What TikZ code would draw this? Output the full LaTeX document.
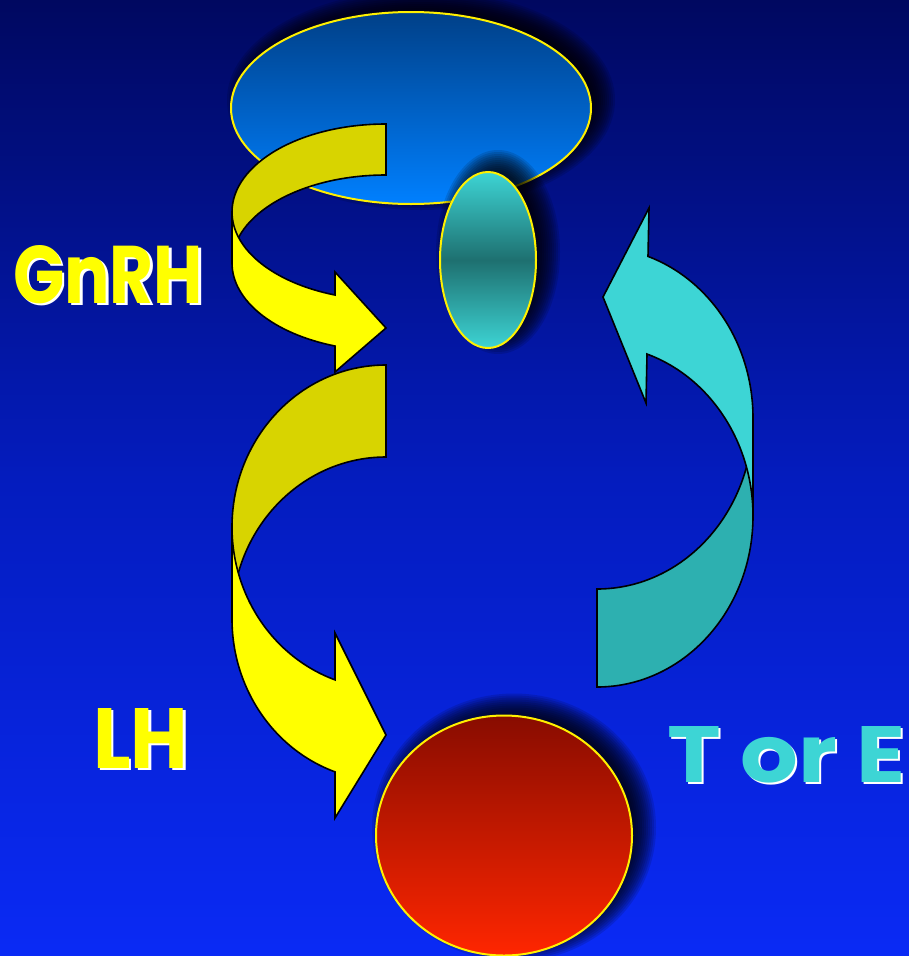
\documentclass[tikz,border=0pt]{standalone}
\usepackage{fontspec}
\usepackage{graphicx}
\newfontfamily\lblfont{Poppins}
\definecolor{bgtop}{RGB}{0,8,96}
\definecolor{bgmid}{RGB}{4,28,190}
\definecolor{bgbot}{RGB}{10,42,245}
\definecolor{hyptop}{RGB}{0,64,136}
\definecolor{hypbot}{RGB}{0,128,255}
\definecolor{pitend}{RGB}{61,212,212}
\definecolor{pitmid}{RGB}{30,112,112}
\definecolor{gontop}{RGB}{136,12,0}
\definecolor{gonbot}{RGB}{255,38,0}
\definecolor{yfront}{RGB}{255,255,0}
\definecolor{yback}{RGB}{216,212,0}
\definecolor{cfront}{RGB}{61,213,213}
\definecolor{cback}{RGB}{45,176,176}
\definecolor{outl}{RGB}{255,240,0}
\newcommand\softshadow[4]{%
  \foreach \k in {0,...,11}{%
    \fill[black,fill opacity=0.12] ({#1+10},{#2-8}) ellipse ({#3+14-2*\k} and {#4+14-2*\k});
  }}
% label with white drop shadow: #1 colour, #2 width, #3 height, #4 text
\newcommand\shadowlabel[4]{%
  \makebox[0pt][l]{\hspace{2.5pt}\raisebox{-2.5pt}{\textcolor{white}{\resizebox{#2}{#3}{#4}}}}%
  \textcolor{#1}{\resizebox{#2}{#3}{#4}}}
\begin{document}
\begin{tikzpicture}[x=1pt,y=-1pt,
  arrowline/.style={draw=black,line width=1.6pt,line join=miter},
  organline/.style={draw=outl,line width=2pt},
  lbl/.style={inner sep=0pt,anchor=base west,font=\lblfont\bfseries},
]
\useasboundingbox (0,0) rectangle (909,956);
\clip (0,0) rectangle (909,956);
\shade[top color=bgtop,bottom color=bgbot,middle color=bgmid] (0,0) rectangle (909,956);

% hypothalamus
\softshadow{411}{108}{180}{96}
\shadedraw[organline,top color=hyptop,bottom color=hypbot] (411,108) ellipse (180 and 96);

% GnRH arrow
\filldraw[arrowline,fill=yback] (386,124)
  arc[start angle=270,end angle=180,x radius=154,y radius=88] -- (232,263)
  arc[start angle=180,end angle=270,x radius=154,y radius=88] -- cycle;
\filldraw[arrowline,fill=yfront] (232,212)
  arc[start angle=180,end angle=109.34,x radius=154,y radius=88]
  -- (335,272) -- (386,328) -- (335,372) -- (335,346.03)
  arc[start angle=109.34,end angle=180,x radius=154,y radius=88] -- cycle;

% pituitary
\softshadow{488}{260}{48}{88}
\shadedraw[organline,top color=pitend,bottom color=pitend,middle color=pitmid] (488,260) ellipse (48 and 88);

% LH arrow
\filldraw[arrowline,fill=yback] (386,365)
  arc[start angle=270,end angle=180,x radius=154,y radius=162] -- (232,619)
  arc[start angle=180,end angle=270,x radius=154,y radius=162] -- cycle;
\filldraw[arrowline,fill=yfront] (232,527)
  arc[start angle=180,end angle=109.34,x radius=154,y radius=162]
  -- (335,633) -- (386,735) -- (335,818) -- (335,771.86)
  arc[start angle=109.34,end angle=180,x radius=154,y radius=162] -- cycle;

% feedback arrow
\filldraw[arrowline,fill=cback] (597,589)
  arc[start angle=90,end angle=0,x radius=156,y radius=171] -- (753,516)
  arc[start angle=0,end angle=90,x radius=156,y radius=171] -- cycle;
\filldraw[arrowline,fill=cfront] (753,516)
  arc[start angle=0,end angle=-71.3,x radius=156,y radius=171]
  -- (646,403) -- (603,297) -- (649,208) -- (648,256.4)
  arc[start angle=-70.92,end angle=0,x radius=156,y radius=171] -- cycle;

% gonad
\softshadow{504}{835.5}{128}{120}
\shadedraw[organline,top color=gontop,bottom color=gonbot] (504,835.5) ellipse (128 and 120);

% labels
\node[lbl] (gnrh) at (13,303) {\shadowlabel{yfront}{190pt}{58pt}{GnRH}};
\node[lbl] (lh) at (93,768) {\shadowlabel{yfront}{95pt}{60pt}{LH}};
\node[lbl] (te) at (667,782) {\shadowlabel{cfront}{238pt}{56pt}{T or E}};
\end{tikzpicture}
\end{document}
